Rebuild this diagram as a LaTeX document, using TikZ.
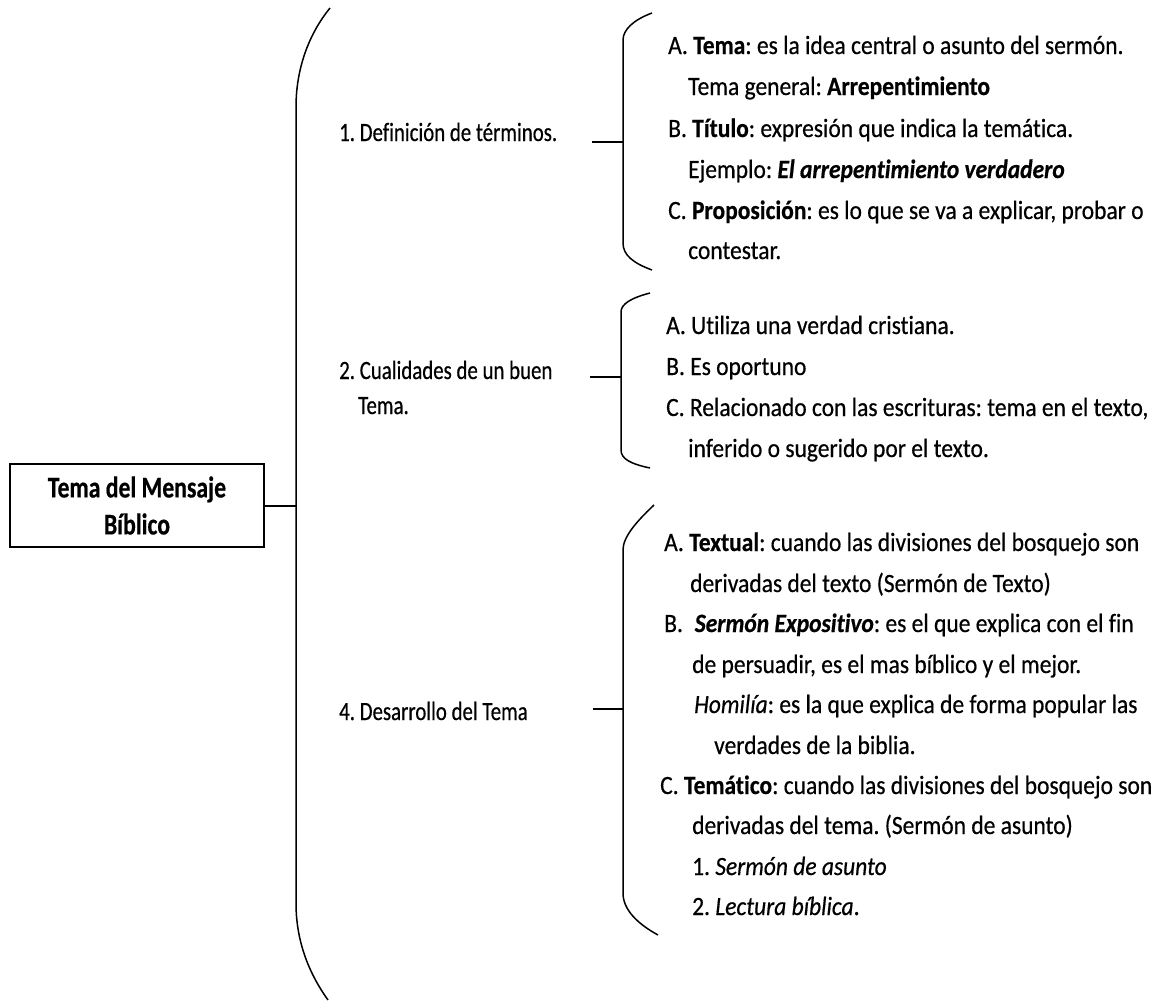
\documentclass[tikz,border=0pt]{standalone}
\usepackage{fontspec}
\setmainfont{Carlito}[FakeStretch=0.79,FakeBold=0.5,Ligatures=NoCommon]
\newfontfamily\brfont{Carlito}[FakeStretch=0.89,FakeBold=0.5,Ligatures=NoCommon]
\frenchspacing
\begin{document}
\begin{tikzpicture}[x=1pt,y=-1pt,
  txt/.style={anchor=base west,inner sep=0pt,font=\fontsize{26.4}{30}\selectfont},
  btxt/.style={anchor=base west,inner sep=0pt,font=\fontsize{26.4}{30}\brfont},
  brk/.style={line width=1.5pt},
  conn/.style={line width=2.4pt}]
\useasboundingbox (0,0) rectangle (1158,1001);
% main box
\node[draw,line width=1.6pt,minimum width=254pt,minimum height=83pt,inner sep=0pt,
  align=center,font=\fontsize{30}{37}\selectfont\bfseries] (root) at (137,505.5)
  {Tema del Mensaje\\Bíblico};
% big bracket
\coordinate (bT) at (330,8);
\coordinate (bU) at (296,107);
\coordinate (bM) at (296,506);
\coordinate (bD) at (296,903);
\coordinate (bB) at (328,1000);
\draw[brk] (bT) .. controls (308,35) and (296,70) .. (bU) -- (bD)
  .. controls (296,940) and (308,972) .. (bB);
\draw[conn] (root.east |- bM) -- (bM);
% level-1 labels
\node[txt] (l1) at (339,141) {1. Definición de términos.};
\node[txt] (l2) at (339,379) {2. Cualidades de un buen};
\node[txt] (l2b) at (358,414) {Tema.};
\node[txt] (l4) at (339,720) {4. Desarrollo del Tema};
% bracket 1
\coordinate (aT) at (652,13);
\coordinate (aU) at (623,40);
\coordinate (aM) at (623,142);
\coordinate (aD) at (623,243);
\coordinate (aB) at (652,270);
\coordinate (aS) at (592,142);
\draw[brk] (aT) .. controls (633,20) and (623,30) .. (aU) -- (aD)
  .. controls (623,255) and (633,263) .. (aB);
\draw[conn] (aS) -- (aM);
% bracket 2
\coordinate (cT) at (650,293);
\coordinate (cU) at (621,312);
\coordinate (cM) at (621,377);
\coordinate (cD) at (621,450);
\coordinate (cB) at (650,468);
\coordinate (cS) at (590,377);
\draw[brk] (cT) .. controls (631,298) and (621,304) .. (cU) -- (cD)
  .. controls (621,459) and (631,464) .. (cB);
\draw[conn] (cS) -- (cM);
% bracket 3
\coordinate (dT) at (654,505);
\coordinate (dU) at (623,550);
\coordinate (dM) at (623,709);
\coordinate (dD) at (623,893);
\coordinate (dB) at (658,935);
\coordinate (dS) at (593,709);
\draw[brk] (dT) .. controls (636,522) and (623,537) .. (dU) -- (dD)
  .. controls (623,910) and (638,924) .. (dB);
\draw[conn] (dS) -- (dM);
% bracket 1 texts
\node[btxt] (a1) at (668,54) {A. \textbf{Tema}: es la idea central o asunto del sermón.};
\node[btxt] (a2) at (688,95) {Tema general: \textbf{Arrepentimiento}};
\node[btxt] (a3) at (668,137) {B. \textbf{Título}: expresión que indica la temática.};
\node[btxt] (a4) at (688,178) {Ejemplo: \textbf{\textit{El arrepentimiento verdadero}}};
\node[btxt] (a5) at (668,219) {C. \textbf{Proposición}: es lo que se va a explicar, probar o};
\node[btxt] (a6) at (688,259) {contestar.};
% bracket 2 texts
\node[btxt] (c1) at (666,334) {A. Utiliza una verdad cristiana.};
\node[btxt] (c2) at (666,375) {B. Es oportuno};
\node[btxt] (c3) at (666,416) {C. Relacionado con las escrituras: tema en el texto,};
\node[btxt] (c4) at (688,457) {inferido o sugerido por el texto.};
% bracket 3 texts
\node[btxt] (d1) at (664,551) {A. \textbf{Textual}: cuando las divisiones del bosquejo son};
\node[btxt] (d2) at (690,592) {derivadas del texto (Sermón de Texto)};
\node[btxt] (d3) at (664,632) {B.\hspace{0.45em}\textbf{\textit{Sermón Expositivo}}: es el que explica con el fin};
\node[btxt] (d4) at (692,673) {de persuadir, es el mas bíblico y el mejor.};
\node[btxt] (d5) at (694,713) {\textit{Homilía}: es la que explica de forma popular las};
\node[btxt] (d6) at (714,754) {verdades de la biblia.};
\node[btxt] (d7) at (660,794) {C. \textbf{Temático}: cuando las divisiones del bosquejo son};
\node[btxt] (d8) at (692,834) {derivadas del tema. (Sermón de asunto)};
\node[btxt] (d9) at (692,875) {1. \textit{Sermón de asunto}};
\node[btxt] (d10) at (692,915) {2. \textit{Lectura bíblica}.};
\end{tikzpicture}
\end{document}
